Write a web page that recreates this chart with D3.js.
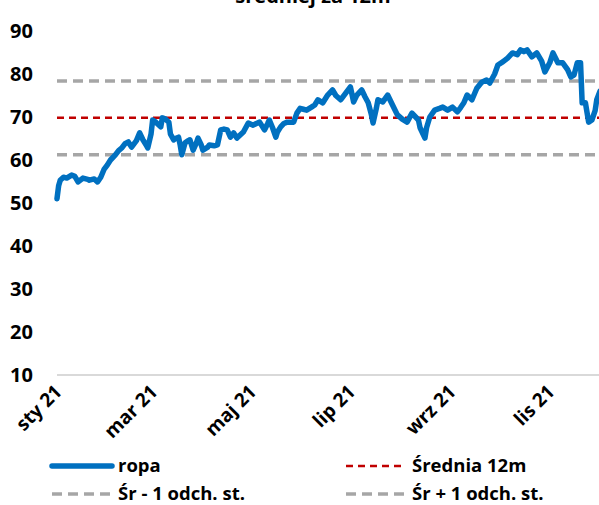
<!DOCTYPE html>
<html>
<head>
<meta charset="utf-8">
<script src="https://cdn.jsdelivr.net/npm/d3@7"></script>
<style>
    body { margin: 0; background: #fff; }
    svg { display: block; font-family: "Open Sans", "Noto Sans", sans-serif; font-weight: bold; }
</style>
</head>
<body>
<div class="data_figure"></div>
<script>
// ropa (Brent) - 2021, odczyt z wykresu
const dates = [
    "2021-01-01","2021-01-02","2021-01-03","2021-01-05","2021-01-07","2021-01-10","2021-01-12","2021-01-14",
    "2021-01-17","2021-01-20","2021-01-21","2021-01-24","2021-01-26","2021-01-28","2021-01-30","2021-02-01",
    "2021-02-03","2021-02-06","2021-02-08","2021-02-10","2021-02-12","2021-02-14","2021-02-16","2021-02-19",
    "2021-02-21","2021-02-23","2021-02-25","2021-02-26","2021-02-28","2021-03-01","2021-03-03","2021-03-06",
    "2021-03-07","2021-03-09","2021-03-11","2021-03-12","2021-03-14","2021-03-15","2021-03-17","2021-03-18",
    "2021-03-19","2021-03-21","2021-03-23","2021-03-24","2021-03-26","2021-03-28","2021-03-29","2021-03-31",
    "2021-04-01","2021-04-04","2021-04-05","2021-04-08","2021-04-10","2021-04-12","2021-04-14","2021-04-16",
    "2021-04-18","2021-04-20","2021-04-22","2021-04-24","2021-04-26","2021-04-29","2021-05-02","2021-05-04",
    "2021-05-06","2021-05-09","2021-05-11","2021-05-12","2021-05-14","2021-05-16","2021-05-17","2021-05-19",
    "2021-05-21","2021-05-23","2021-05-27","2021-05-29","2021-05-31","2021-06-02","2021-06-04","2021-06-07",
    "2021-06-09","2021-06-11","2021-06-14","2021-06-17","2021-06-20","2021-06-22","2021-06-25","2021-06-28",
    "2021-07-01","2021-07-03","2021-07-05","2021-07-08","2021-07-10","2021-07-12","2021-07-14","2021-07-15",
    "2021-07-17","2021-07-18","2021-07-21","2021-07-24","2021-07-27","2021-07-30","2021-08-02","2021-08-05",
    "2021-08-08","2021-08-12","2021-08-13","2021-08-16","2021-08-17","2021-08-19","2021-08-22","2021-08-25",
    "2021-08-27","2021-08-30","2021-09-02","2021-09-05","2021-09-07","2021-09-09","2021-09-11","2021-09-14",
    "2021-09-17","2021-09-20","2021-09-23","2021-09-25","2021-09-28","2021-09-30","2021-10-03","2021-10-06",
    "2021-10-09","2021-10-12","2021-10-14","2021-10-16","2021-10-18","2021-10-21","2021-10-24","2021-10-27",
    "2021-10-29","2021-11-01","2021-11-03","2021-11-06","2021-11-09","2021-11-12","2021-11-14","2021-11-16",
    "2021-11-18","2021-11-20","2021-11-21","2021-11-23","2021-11-25","2021-11-27","2021-11-29","2021-11-30",
    "2021-12-02"
];
const ropa = [
    51.0, 54.0, 55.3, 56.0, 55.8, 56.5, 56.2, 54.9,
    55.8, 55.5, 55.3, 55.6, 54.9, 56.0, 57.8, 58.8,
    60.0, 61.2, 62.2, 62.8, 63.8, 64.2, 63.0, 64.5,
    66.3, 64.7, 63.5, 62.8, 66.0, 69.3, 68.8, 67.7,
    69.8, 69.5, 68.8, 66.0, 64.7, 65.0, 65.3, 63.5,
    61.2, 64.0, 64.5, 64.7, 62.3, 64.0, 65.1, 63.5,
    62.3, 63.0, 63.5, 63.3, 63.5, 67.0, 67.2, 67.0,
    65.3, 66.3, 65.1, 65.8, 66.5, 68.6, 68.1, 68.5,
    68.8, 67.0, 68.5, 69.3, 67.5, 65.3, 66.5, 67.7,
    68.5, 68.8, 68.8, 70.9, 72.0, 71.8, 71.6, 72.3,
    72.8, 74.0, 73.3, 75.1, 76.3, 75.0, 74.0, 75.5,
    77.0, 73.5, 75.1, 76.3, 74.7, 73.3, 70.5, 68.6,
    72.0, 74.0, 73.5, 75.1, 72.8, 70.5, 69.5, 68.8,
    70.9, 69.3, 67.5, 65.1, 67.5, 70.0, 71.6, 72.0,
    72.3, 71.6, 72.3, 71.2, 72.2, 73.3, 75.1, 74.0,
    76.7, 78.1, 78.6, 77.9, 80.0, 82.1, 82.8, 83.7,
    84.9, 84.5, 85.6, 85.2, 85.6, 84.0, 84.9, 83.0,
    80.5, 82.6, 84.9, 82.6, 82.6, 81.0, 79.3, 79.8,
    82.6, 82.6, 73.3, 73.3, 68.8, 69.3, 71.5, 74.0,
    76.0
];

// srednia 12m i +/- 1 odchylenie
const srednia12m = 69.8;
const srMinus1 = 61.2;
const srPlus1 = 78.4;

const yTicks = [10, 20, 30, 40, 50, 60, 70, 80, 90];
const xTickDates = ["2021-01-01","2021-03-01","2021-05-01","2021-07-01","2021-09-01","2021-11-01"];
const xTickLabels = ["sty 21","mar 21","maj 21","lip 21","wrz 21","lis 21"];

const widthMax = 599;
const heightMax = 505;
const margin = { top: 31, left: 57, bottom: 130 };
const plotRight = 647; // wykres jest przyciety z prawej

const parse = d3.timeParse("%Y-%m-%d");
const data = dates.map((d, i) => ({ date: parse(d), value: ropa[i] }));

let svg = d3.select(".data_figure")
            .append("svg")
            .attr("width", widthMax)
            .attr("height", heightMax);

const x = d3.scaleTime()
            .domain([parse("2021-01-01"), parse("2021-12-31")])
            .range([margin.left, plotRight]);
const y = d3.scaleLinear()
            .domain([10, 90])
            .range([375, margin.top]);

// title (clipped at top, like the source)
svg.append("text")
    .text("średniej za 12m")
    .attr("x", 313)
    .attr("y", 3)
    .attr("text-anchor", "middle")
    .style("font-size", "20px");

// y axis labels
svg.append("g")
    .selectAll("text")
    .data(yTicks)
    .enter()
        .append("text")
        .text((d) => d)
        .attr("x", 10)
        .attr("y", (d) => y(d))
        .attr("dy", "0.36em")
        .style("font-size", "20px")
        .attr("fill", "#000");

// baseline
svg.append("line")
    .attr("x1", margin.left)
    .attr("x2", plotRight)
    .attr("y1", y(10))
    .attr("y2", y(10))
    .attr("stroke", "#d9d9d9")
    .attr("stroke-width", 2);

// x labels
svg.append("g")
    .selectAll("text")
    .data(xTickDates)
    .enter()
        .append("text")
        .text((d, i) => xTickLabels[i])
        .attr("text-anchor", "end")
        .attr("transform", (d) => "translate(" + (x(parse(d)) + 6) + "," + (y(10) + 18) + ") rotate(-45)")
        .style("font-size", "19px");

// horizontal reference lines
const refLines = [
    { v: srMinus1, color: "#a6a6a6", w: 3.5, dash: "10,6" },
    { v: srPlus1, color: "#a6a6a6", w: 3.5, dash: "10,6" },
    { v: srednia12m, color: "#c00000", w: 2.5, dash: "7,5" }
];
svg.append("g")
    .selectAll("line")
    .data(refLines)
    .enter()
        .append("line")
        .attr("x1", margin.left)
        .attr("x2", plotRight)
        .attr("y1", (d) => y(d.v))
        .attr("y2", (d) => y(d.v))
        .attr("stroke", (d) => d.color)
        .attr("stroke-width", (d) => d.w)
        .attr("stroke-dasharray", (d) => d.dash);

// ropa line
const line = d3.line()
                .x((d) => x(d.date))
                .y((d) => y(d.value));
svg.append("path")
    .datum(data)
    .attr("d", line)
    .attr("fill", "none")
    .attr("stroke", "#0070c0")
    .attr("stroke-width", 5.5)
    .attr("stroke-linejoin", "round")
    .attr("stroke-linecap", "round");

// legend
const legendItems = [
    { label: "ropa", x: 52, y: 466, color: "#0070c0", w: 5.5, dash: null },
    { label: "Średnia 12m", x: 346, y: 466, color: "#c00000", w: 2.5, dash: "7,5" },
    { label: "Śr - 1 odch. st.", x: 52, y: 494, color: "#a6a6a6", w: 3.5, dash: "10,6" },
    { label: "Śr + 1 odch. st.", x: 346, y: 494, color: "#a6a6a6", w: 3.5, dash: "10,6" }
];
const legend = svg.append("g").attr("id", "legend");
legendItems.forEach((d) => {
    legend.append("line")
        .attr("x1", d.x)
        .attr("x2", d.x + 60)
        .attr("y1", d.y)
        .attr("y2", d.y)
        .attr("stroke", d.color)
        .attr("stroke-width", d.w)
        .attr("stroke-linecap", d.dash ? "butt" : "round")
        .attr("stroke-dasharray", d.dash);
    legend.append("text")
        .text(d.label)
        .attr("x", d.x + 66)
        .attr("y", d.y)
        .attr("dy", "0.35em")
        .style("font-size", "18.5px");
});
</script>
</body>
</html>
